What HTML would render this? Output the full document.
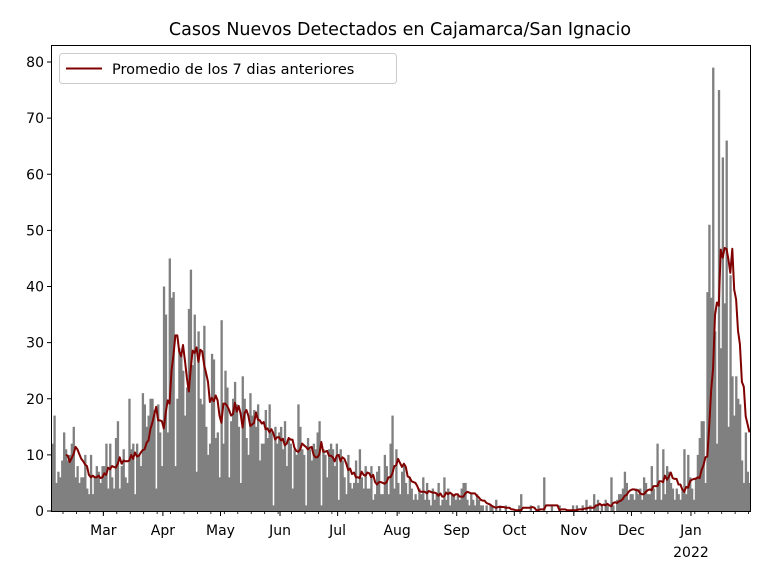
<!DOCTYPE html>
<html><head><meta charset="utf-8"><style>
body{margin:0;background:#fff;}
svg text{font-family:"DejaVu Sans","Liberation Sans",sans-serif;}
</style></head><body>
<svg id="chart" width="768" height="576" viewBox="0 0 768 576" xmlns="http://www.w3.org/2000/svg">
<rect width="768" height="576" fill="#fff"/>
<text x="400" y="35" font-size="17.5" text-anchor="middle">Casos Nuevos Detectados en Cajamarca/San Ignacio</text>
<g id="bars"></g><g id="line"></g><g id="axes"></g>
<rect x="51.5" y="45.5" width="699" height="466" fill="none" stroke="#000" stroke-width="1"/>
<g>
<rect x="59.5" y="53.5" width="337" height="30" rx="3" fill="#fff" fill-opacity="0.8" stroke="#ccc"/>
<line x1="66" y1="68.5" x2="102" y2="68.5" stroke="#800000" stroke-width="2"/>
<text x="112" y="74" font-size="14.5">Promedio de los 7 dias anteriores</text>
</g>
</svg>
<script>
const monthLabels=["Mar","Apr","May","Jun","Jul","Aug","Sep","Oct","Nov","Dec","Jan"];
const monthStartDays=[27,58,88,119,149,180,211,241,272,302,333];
const yTicks=[0,10,20,30,40,50,60,70,80];
const casesFeb=[12,17,5,7,6,9,14,11,9,10,12,15,6,8,5,6,6,10,4,3,10,3,6,8,7,5,8];
const casesMar=[8,12,4,12,6,4,13,16,4,8,11,6,5,20,11,12,3,12,10,8,21,19,15,17,20,20,18,4,19,14,8];
const casesApr=[40,35,14,45,38,39,8,20,29,28,25,17,22,36,43,26,35,7,32,20,19,33,15,10,12,28,27,13,14,6];
const casesMay=[34,12,25,22,6,16,20,23,19,15,5,24,20,13,10,21,17,18,15,19,9,12,12,18,13,19,14,1,15,12,14];
const casesJun=[15,11,16,8,13,12,4,11,10,19,15,11,10,1,13,11,9,12,11,14,16,1,11,10,6,11,12,11,8,12];
const casesJul=[2,11,9,6,3,10,5,4,5,9,5,11,6,4,8,4,4,8,2,3,7,8,3,3,10,8,3,12,17,4,11];
const casesAug=[5,3,7,8,5,3,6,4,2,3,2,4,3,6,2,5,2,1,4,2,3,5,1,2,6,2,4,1,3,3,2];
const casesSep=[3,2,4,5,5,2,1,3,2,1,3,2,1,1,0,1,0,1,1,0,2,0,1,0,0,1,0,0,0,0];
const casesOct=[0,0,1,3,0,0,0,0,1,0,0,0,1,0,0,6,0,0,0,1,0,0,0,1,0,0,0,0,0,0,1];
const casesNov=[0,1,0,0,1,0,2,0,1,0,3,1,2,0,1,0,2,1,0,6,1,0,2,3,3,4,7,5,2,3];
const casesDec=[3,2,4,3,4,2,6,5,3,3,8,4,2,12,5,2,11,3,8,7,5,4,2,4,3,2,4,11,3,10,6];
const casesJan=[4,2,6,10,13,16,16,5,39,51,38,79,32,12,75,29,63,37,66,15,42,24,17,24,20,19,9,5,14,7,5];
const cases=[].concat(casesFeb,casesMar,casesApr,casesMay,casesJun,casesJul,casesAug,casesSep,casesOct,casesNov,casesDec,casesJan);

const NS="http://www.w3.org/2000/svg";
const pxPerDay=699/cases.length;
const x=d=>51.5+d*pxPerDay;
const y=v=>511-v*(449/80);
function mk(tag,attrs,parent){const e=document.createElementNS(NS,tag);for(const k in attrs)e.setAttribute(k,attrs[k]);parent.appendChild(e);return e;}

const gb=document.getElementById('bars');
cases.forEach((v,i)=>{
  const r=mk('rect',{x:x(i),y:y(v),width:pxPerDay+0.4,height:511-y(v),fill:'#808080'},gb);
  
  
});
const pts=[];
for(let i=7;i<cases.length;i++){let s=0;for(let j=i-7;j<i;j++)s+=cases[j];pts.push(x(i+0.5).toFixed(1)+','+y(s/7).toFixed(1));}
const pl=mk('polyline',{points:pts.join(' '),fill:'none',stroke:'#800000','stroke-width':2,'stroke-linejoin':'round'},document.getElementById('line'));



const ga=document.getElementById('axes');
yTicks.forEach(t=>{
  const l=mk('line',{x1:47,x2:51.5,y1:y(t),y2:y(t),stroke:'#000'},ga);
  
  
  const tx=mk('text',{x:44,y:y(t)+5,'font-size':14,'text-anchor':'end'},ga);
  tx.textContent=t;
  
  
});
for(let d=6;d<cases.length;d+=7){
  const l=mk('line',{x1:x(d),x2:x(d),y1:511.5,y2:514,stroke:'#000','stroke-width':0.8},ga);
  
  
}
monthStartDays.forEach((d,i)=>{
  const l=mk('line',{x1:x(d),x2:x(d),y1:511.5,y2:516,stroke:'#000'},ga);
  
  
  const tx=mk('text',{x:x(d),y:535,'font-size':14,'text-anchor':'middle'},ga);
  tx.textContent=monthLabels[i];
  
  
});
const yr=mk('text',{x:x(333),y:557,'font-size':14,'text-anchor':'middle'},ga);
yr.textContent='2022';


</script>
</body></html>
